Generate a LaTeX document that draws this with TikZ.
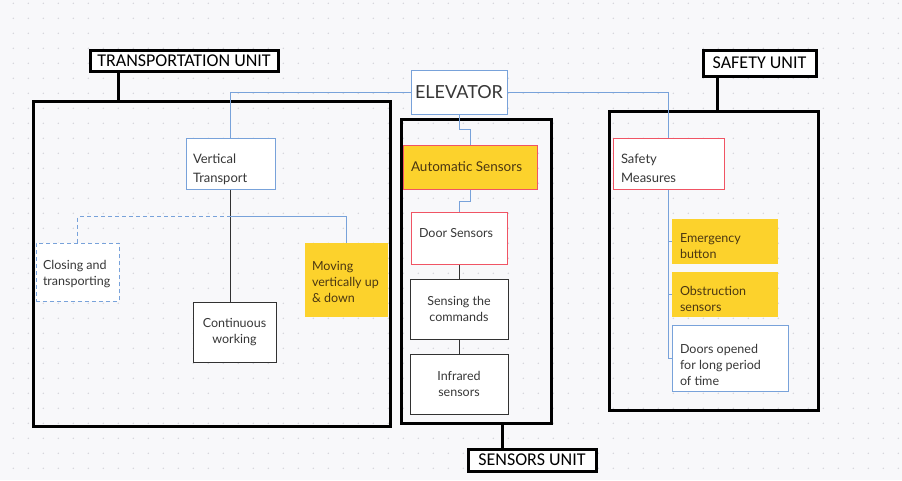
\documentclass[tikz,border=0pt]{standalone}
\usepackage{fontspec}
\setmainfont{Lato}
\newfontfamily\labfont{Carlito}
\usetikzlibrary{calc}
\definecolor{bg}{RGB}{248,248,250}
\definecolor{dotc}{RGB}{212,212,218}
\definecolor{bl}{RGB}{120,162,218}
\definecolor{rd}{RGB}{240,84,100}
\definecolor{yl}{RGB}{252,210,44}
\definecolor{tx}{RGB}{55,55,55}
\definecolor{ytx}{RGB}{75,55,18}
\definecolor{dk}{RGB}{50,50,50}
% left-aligned text block of given width, pushed down by half of #2
\newcommand{\lbx}[3]{\makebox[#1][l]{\raisebox{0pt}[\dimexpr\height+#2\relax][\depth]{\begin{tabular}{@{}l@{}}#3\end{tabular}}}}
\begin{document}
\begin{tikzpicture}[x=1pt,y=-1pt,
 unitbox/.style={draw=black, line width=3pt, inner sep=0pt},
 unitlabel/.style={draw=black, line width=3pt, fill=white, inner sep=0pt, font=\labfont\fontsize{18}{20}\selectfont, text=black},
 nd/.style={inner sep=0pt, line width=1pt, text=tx, font=\fontsize{12.5}{16}\selectfont},
 blbox/.style={nd, draw=bl, fill=white},
 rdbox/.style={nd, draw=rd, fill=white},
 dkbox/.style={nd, draw=dk, fill=white, align=center},
 ylbox/.style={nd, fill=yl, text=ytx},
 blueline/.style={draw=bl, line width=1pt},
 darkline/.style={draw=dk, line width=1pt},
]
\useasboundingbox (0,0) rectangle (902,480);
\fill[bg] (0,0) rectangle (902,480);
\foreach \i in {0,...,59} {\foreach \j in {0,...,31} {\fill[dotc] (13.3+15*\i,3.3+15*\j) circle (0.8pt);}}

% unit frames
\node[unitbox, minimum width=357pt, minimum height=325pt] (trbox) at (211.5,263.5) {};
\node[unitbox, minimum width=150pt, minimum height=304pt] (snbox) at (476,271) {};
\node[unitbox, minimum width=209pt, minimum height=299pt] (sfbox) at (713.5,260.5) {};

\node[unitlabel, minimum width=188pt, minimum height=21pt] (trlab) at (184,60.5) {TRANSPORTATION UNIT};
\node[unitlabel, minimum width=113pt, minimum height=26pt] (sflab) at (759.5,63) {SAFETY UNIT};
\node[unitlabel, minimum width=128pt, minimum height=22pt] (snlab) at (532,460) {SENSORS UNIT};

\coordinate (trx) at (118,0);
\coordinate (sfx) at (717,0);
\coordinate (snx) at (502,0);
\draw[line width=3pt] (trlab.south -| trx) -- (trbox.north -| trx);
\draw[line width=3pt] (sflab.south -| sfx) -- (sfbox.north -| sfx);
\draw[line width=3pt] (snbox.south -| snx) -- (snlab.north -| snx);

% nodes
\node[blbox, minimum width=96pt, minimum height=44pt, font=\fontsize{18}{20}\selectfont] (elev) at (459,92) {ELEVATOR};

\node[blbox, minimum height=51pt, inner xsep=7pt, font=\fontsize{13}{19}\selectfont] (vt) at (230.5,163.5) {\lbx{75pt}{12pt}{Vertical\\Transport}};
\node[blbox, dash pattern=on 4pt off 3pt, minimum height=58pt, inner xsep=7pt] (closing) at (77.5,272) {\lbx{69pt}{4pt}{Closing and\\transporting}};
\node[dkbox, minimum width=83pt, minimum height=60pt] (cont) at (234.5,332) {Continuous\\working};
\node[ylbox, minimum height=74pt, inner xsep=7pt] (moving) at (346.5,280) {\lbx{69pt}{6pt}{Moving\\vertically up\\\& down}};

\node[nd, draw=rd, fill=yl, text=ytx, minimum height=44pt, inner xsep=8pt, font=\fontsize{13.5}{16}\selectfont] (auto) at (470,167) {\makebox[118pt][l]{Automatic Sensors}};
\node[rdbox, minimum height=52pt, inner xsep=8pt] (door) at (459,238) {\makebox[80pt][l]{\raisebox{0pt}[\height][\dimexpr\depth+10pt\relax]{Door Sensors}}};
\node[dkbox, minimum width=98pt, minimum height=60pt] (sensing) at (459,309) {Sensing the\\commands};
\node[dkbox, minimum width=98pt, minimum height=60pt] (infra) at (459,384) {Infrared\\sensors};

\node[rdbox, minimum height=51pt, inner xsep=8pt, font=\fontsize{13}{19}\selectfont] (safem) at (668.5,163.5) {\lbx{95pt}{12pt}{Safety\\Measures}};
\node[ylbox, minimum height=45pt, inner xsep=8pt] (emerg) at (725,241.5) {\lbx{90pt}{12pt}{Emergency\\button}};
\node[ylbox, minimum height=45pt, inner xsep=8pt] (obst) at (725,294.5) {\lbx{90pt}{12pt}{Obstruction\\sensors}};
\node[blbox, minimum height=66pt, inner xsep=8pt] (doors) at (730,358) {\lbx{100pt}{16pt}{Doors opened\\for long period\\of time}};

% connectors
\draw[blueline] (elev.west) -| (vt.north);
\draw[blueline] (elev.east) -| (safem.north);
\draw[blueline] (elev.south) -- ++(0,15) -| (auto.north);
\draw[blueline] (auto.south) -- ++(0,12) -| (door.north);
\draw[darkline] (door.south) -- (sensing.north);
\draw[darkline] (sensing.south) -- (infra.north);

\coordinate (br) at ($(vt.south)+(0,27)$);
\draw[darkline] (vt.south) -- (vt.south |- cont.north);
\draw[blueline] (br) -| (moving.north);
\draw[blueline, dash pattern=on 4pt off 3pt] (br) -| (closing.north);

\draw[blueline] (safem.south) |- (doors.west);
\draw[blueline] (safem.south |- emerg.west) -- (emerg.west);
\draw[blueline] (safem.south |- obst.west) -- (obst.west);
\end{tikzpicture}
\end{document}
